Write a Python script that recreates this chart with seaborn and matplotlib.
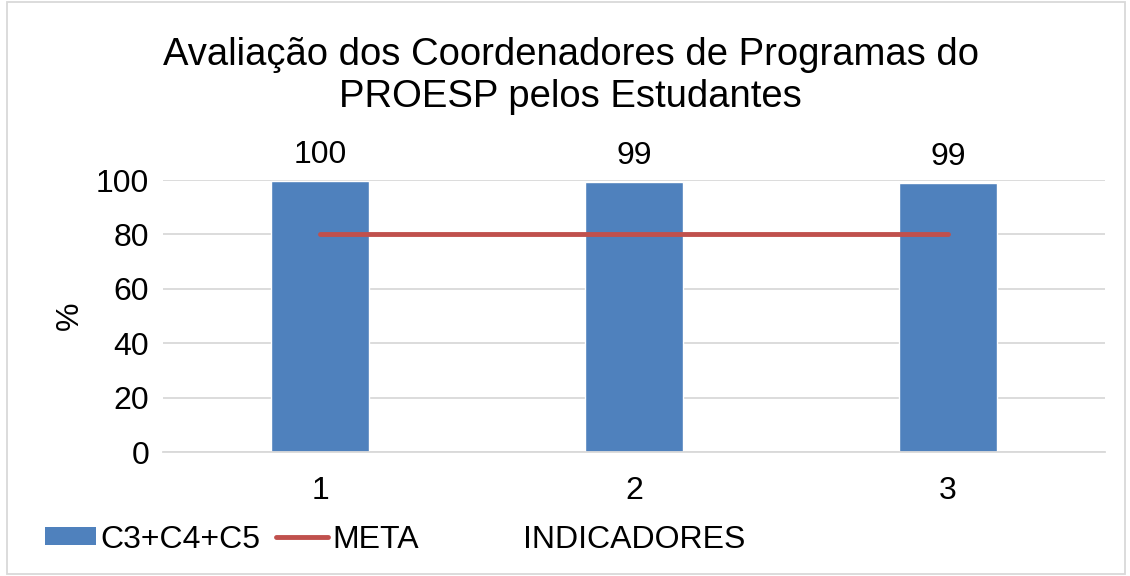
import pandas as pd
import seaborn as sns
import matplotlib.pyplot as plt
from matplotlib.patches import Patch, Rectangle
from matplotlib.lines import Line2D

indicadores = ["1", "2", "3"]
c3c4c5 = [99.7, 99.4, 98.8]
meta = [80, 80, 80]
bar_labels = ["100", "99", "99"]

BLUE = "#4F81BD"
RED = "#C0504D"

sns.set_theme(style="white")
plt.rcParams['font.family'] = ['Liberation Sans', 'DejaVu Sans']
plt.rcParams['text.color'] = 'black'
plt.rcParams['axes.labelcolor'] = 'black'
plt.rcParams['xtick.color'] = 'black'
plt.rcParams['ytick.color'] = 'black'

df = pd.DataFrame({"Indicador": indicadores, "C3+C4+C5": c3c4c5, "META": meta})

fig = plt.figure(figsize=(11.3, 5.76), dpi=100)
ax = fig.add_axes([163 / 1130, 1 - 452 / 576, (1105 - 163) / 1130, (452 - 180) / 576])

sns.barplot(data=df, x="Indicador", y="C3+C4+C5", color=BLUE, width=0.31,
            saturation=1, ax=ax, zorder=2)
sns.pointplot(data=df, x="Indicador", y="META", color=RED, markers="",
              linestyles="-", ax=ax, zorder=3)
for ln in ax.lines:
    ln.set_linewidth(3.5)
    ln.set_solid_capstyle("round")

ax.bar_label(ax.containers[0], labels=bar_labels, padding=8, fontsize=23)

ax.set_ylim(0, 100)
ax.set_yticks(range(0, 101, 20))
ax.yaxis.grid(True, color="#D9D9D9", linewidth=1.3)
ax.set_axisbelow(True)
for s in ["top", "right", "left"]:
    ax.spines[s].set_visible(False)
ax.spines["bottom"].set_color("#D9D9D9")
ax.spines["bottom"].set_linewidth(1.3)
ax.tick_params(axis="y", labelsize=23, length=0, pad=10)
ax.tick_params(axis="x", labelsize=23, length=0, pad=17)
ax.set_ylabel("%", fontsize=23, labelpad=8)
ax.set_xlabel("INDICADORES", fontsize=23, labelpad=14)

fig.text(0.505, 0.868, "Avaliação dos Coordenadores de Programas do\nPROESP pelos Estudantes",
         ha="center", va="center", fontsize=27.5, linespacing=1.2)

handles = [Patch(facecolor=BLUE, edgecolor="none"),
           Line2D([0], [0], color=RED, linewidth=3.5, solid_capstyle="round")]
fig.legend(handles, ["C3+C4+C5", "META"], loc="center left",
           bbox_to_anchor=(0.014, 0.063), ncol=2, frameon=False, fontsize=23,
           handlelength=1.6, handleheight=0.5, handletextpad=0.15, columnspacing=0.5)

fig.patches.append(Rectangle((0.006, 0.003), 0.99, 0.994, transform=fig.transFigure,
                             fill=False, edgecolor="#D9D9D9", linewidth=1.3))

fig.savefig("out.png", dpi=100)
